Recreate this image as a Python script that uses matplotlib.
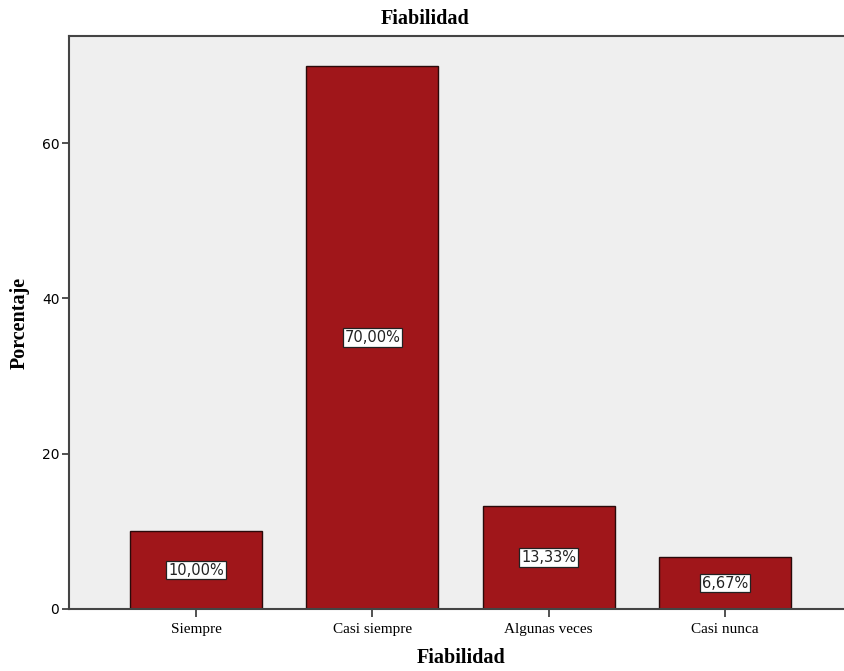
import matplotlib.pyplot as plt

categorias = ['Siempre', 'Casi siempre', 'Algunas veces', 'Casi nunca']
porcentajes = [10.00, 70.00, 13.33, 6.67]
etiquetas = ['10,00%', '70,00%', '13,33%', '6,67%']
yticks = [0, 20, 40, 60]

fig = plt.figure(figsize=(8.44, 6.71), dpi=100)
ax = fig.add_axes([0.0818, 0.0924, 0.9182, 0.8539])
ax.set_facecolor('#efefef')

x = range(len(categorias))
ax.bar(x, porcentajes, width=0.75, color='#a0161a', edgecolor='#2a0a0a', linewidth=1.0, zorder=2)

for xi, v, lab in zip(x, porcentajes, etiquetas):
    ax.text(xi, v / 2, lab, ha='center', va='center', fontsize=10.5, family='DejaVu Sans',
            color='#222222', zorder=3,
            bbox=dict(boxstyle='square,pad=0.12', facecolor='white', edgecolor='#222222', linewidth=0.9))

ax.set_xlim(-0.72, 3.675)
ax.set_ylim(0, 73.8)
ax.set_xticks(list(x))
ax.set_xticklabels(categorias, family='Liberation Serif', fontsize=11)
ax.set_yticks(yticks)
ax.set_yticklabels([str(t) for t in yticks], family='DejaVu Sans', fontsize=10)
ax.tick_params(axis='x', length=6, width=1.2, color='#333333', pad=4)
ax.tick_params(axis='y', length=5, width=1.2, color='#333333', pad=2)

for s in ['left', 'top', 'bottom']:
    ax.spines[s].set_color('#444444')
    ax.spines[s].set_linewidth(1.5)
ax.spines['right'].set_visible(False)

# titulo y etiquetas de ejes
fig.text(0.504, 0.972, 'Fiabilidad', ha='center', va='center', family='Liberation Serif',
         fontweight='bold', fontsize=14.5)
fig.text(0.546, 0.019, 'Fiabilidad', ha='center', va='center', family='Liberation Serif',
         fontweight='bold', fontsize=14.5)
fig.text(0.0237, 0.519, 'Porcentaje', ha='center', va='center', rotation=90,
         family='Liberation Serif', fontweight='bold', fontsize=14.5)

fig.savefig('out.png', dpi=100)
